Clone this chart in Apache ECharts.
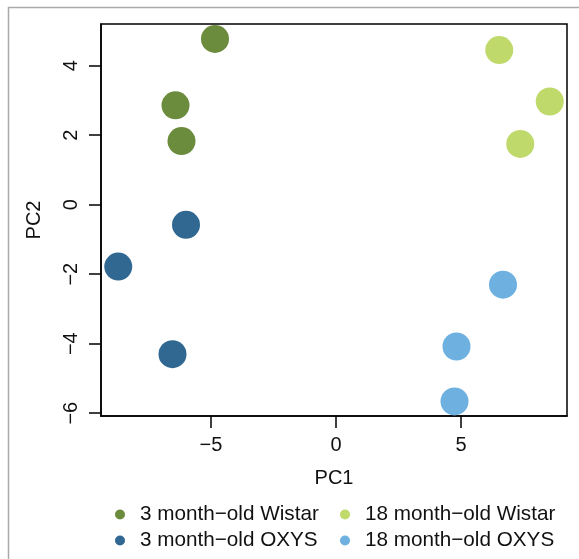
<!DOCTYPE html>
<html style="height: 100%">
<head>
    <meta charset="utf-8">
</head>
<body style="height: 100%; margin: 0; background-color: #fff;">
<div id="container" style="width: 579px; height: 559px;"></div>
<script type="text/javascript" src="https://cdn.jsdelivr.net/npm/echarts@6/dist/echarts.min.js"></script>
<script type="text/javascript">
// group names (R renders the hyphen as a minus sign)
var groupNames = ['3 month\u2212old Wistar', '18 month\u2212old Wistar', '3 month\u2212old OXYS', '18 month\u2212old OXYS'];
var groupColors = ['#6b8b3d', '#bfd96b', '#306892', '#6eb1e0'];

// PC1 / PC2 scores
var wistar3 = [[-4.84, 4.77], [-6.42, 2.86], [-6.18, 1.83]];
var wistar18 = [[6.53, 4.45], [8.55, 2.97], [7.37, 1.75]];
var oxys3 = [[-6.0, -0.58], [-8.71, -1.78], [-6.54, -4.30]];
var oxys18 = [[6.68, -2.30], [4.82, -4.08], [4.74, -5.66]];

var xTicks = [-5, 0, 5];
var yTicks = [-6, -4, -2, 0, 2, 4];

var groupData = [wistar3, wistar18, oxys3, oxys18];

var dom = document.getElementById('container');
var myChart = echarts.init(dom, null, {renderer: 'canvas'});

var font = 'Liberation Sans, Arial, Helvetica, sans-serif';
function minus(v) {
    return String(v).replace('-', '\u2212');
}

var series = [];
for (var i = 0; i < groupNames.length; i++) {
    series.push({
        name: groupNames[i],
        type: 'scatter',
        symbol: 'circle',
        symbolSize: 28,
        itemStyle: {color: groupColors[i], opacity: 1},
        emphasis: {disabled: true},
        data: groupData[i]
    });
}

// one legend per entry so the two columns line up like the R legend
var legendPos = [
    {left: 115, top: 504},
    {left: 340, top: 504},
    {left: 115, top: 530},
    {left: 340, top: 530}
];
var legends = [];
for (var j = 0; j < groupNames.length; j++) {
    legends.push({
        data: [groupNames[j]],
        left: legendPos[j].left,
        top: legendPos[j].top,
        padding: 0,
        icon: 'circle',
        itemWidth: 10,
        itemHeight: 10,
        itemGap: 0,
        selectedMode: false,
        textStyle: {fontSize: 20.7, fontFamily: font, color: '#111', padding: [0, 0, 0, 10], lineHeight: 20}
    });
}

var option = {
    animation: false,
    backgroundColor: '#fff',
    graphic: [{
        type: 'rect',
        shape: {x: 8.5, y: 7.5, width: 700, height: 700},
        style: {fill: 'none', stroke: '#aaaaaa', lineWidth: 1.5},
        silent: true
    }],
    legend: legends,
    grid: {
        left: 101, top: 24, right: 12, bottom: 143,
        show: true, borderColor: '#000', borderWidth: 1.5, backgroundColor: 'transparent'
    },
    xAxis: {
        type: 'value',
        min: -9.40, max: 9.24,
        name: 'PC1',
        nameLocation: 'middle',
        nameGap: 52,
        nameTextStyle: {fontSize: 20, fontFamily: font, color: '#111'},
        axisLine: {show: true, onZero: false, lineStyle: {color: '#000', width: 1.5}},
        axisTick: {show: true, length: 12, customValues: xTicks, lineStyle: {color: '#000', width: 1.5}},
        axisLabel: {
            customValues: xTicks, margin: 19, fontSize: 20, fontFamily: font, color: '#111',
            formatter: minus
        },
        splitLine: {show: false}
    },
    yAxis: {
        type: 'value',
        min: -6.08, max: 5.20,
        name: 'PC2',
        nameLocation: 'middle',
        nameRotate: 90,
        nameGap: 57,
        nameTextStyle: {fontSize: 20, fontFamily: font, color: '#111'},
        axisLine: {show: true, onZero: false, lineStyle: {color: '#000', width: 1.5}},
        axisTick: {show: true, length: 12, customValues: yTicks, lineStyle: {color: '#000', width: 1.5}},
        axisLabel: {
            customValues: yTicks, margin: 20, rotate: 90, fontSize: 20, fontFamily: font, color: '#111',
            formatter: minus
        },
        splitLine: {show: false}
    },
    series: series
};

myChart.setOption(option);
</script>
</body>
</html>
